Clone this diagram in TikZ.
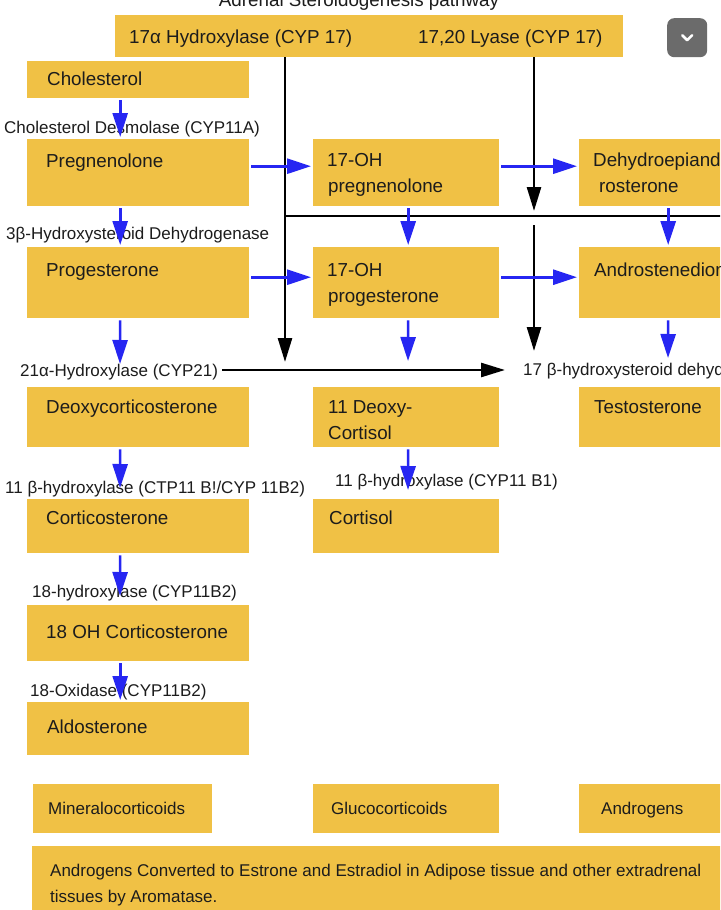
\documentclass[tikz,border=0pt]{standalone}
\usepackage{fontspec}
\setmainfont{Liberation Sans}
\usetikzlibrary{arrows.meta,calc}
\definecolor{gold}{HTML}{F0C145}
\definecolor{barc}{HTML}{2626F2}
\definecolor{btngray}{HTML}{6B6B6B}
\definecolor{ink}{HTML}{1C1C1C}
\begin{document}
\begin{tikzpicture}[x=1pt,y=-1pt,
  box/.style={fill=gold, draw=none, inner sep=0pt, anchor=north west},
  btxt/.style={anchor=base west, inner sep=0pt, font=\fontsize{18.8}{22}\selectfont, text=ink},
  ltxt/.style={anchor=base west, inner sep=0pt, font=\fontsize{17}{20}\selectfont, text=ink},
  barrow/.style={draw=barc, line width=2.6pt, -{Triangle[length=24pt,width=15pt]}, shorten <=2pt, shorten >=2pt},
  karrow/.style={draw=black, line width=2.6pt, -{Triangle[length=24pt,width=14pt]}},
  kline/.style={draw=black, line width=2.8pt}]
\useasboundingbox (0,0) rectangle (720,910);
\clip (0,0) rectangle (720,910);
\fill[white] (0,0) rectangle (720,910);

% title (cut off at top)
\node[btxt, anchor=base] (title) at (359,6) {Adrenal Steroidogenesis pathway};

% boxes
\node[box, minimum width=508pt, minimum height=42pt] (top) at (115,15) {};
\node[box, minimum width=222pt, minimum height=37pt] (chol) at (27,61) {};
\node[box, minimum width=222pt, minimum height=67pt] (preg) at (27,139) {};
\node[box, minimum width=222pt, minimum height=71pt] (prog) at (27,247) {};
\node[box, minimum width=222pt, minimum height=60pt] (doc) at (27,387) {};
\node[box, minimum width=222pt, minimum height=54pt] (cort) at (27,499) {};
\node[box, minimum width=222pt, minimum height=56pt] (ohc) at (27,605) {};
\node[box, minimum width=222pt, minimum height=53pt] (aldo) at (27,702) {};
\node[box, minimum width=186pt, minimum height=67pt] (ohpreg) at (313,139) {};
\node[box, minimum width=186pt, minimum height=71pt] (ohprog) at (313,247) {};
\node[box, minimum width=186pt, minimum height=60pt] (dcort) at (313,387) {};
\node[box, minimum width=186pt, minimum height=54pt] (cortisol) at (313,499) {};
\node[box, minimum width=186pt, minimum height=67pt] (dhea) at (579,139) {};
\node[box, minimum width=186pt, minimum height=71pt] (andro) at (579,247) {};
\node[box, minimum width=186pt, minimum height=60pt] (testo) at (579,387) {};
\node[box, minimum width=179pt, minimum height=49pt] (mineral) at (33,784) {};
\node[box, minimum width=186pt, minimum height=49pt] (gluco) at (313,784) {};
\node[box, minimum width=186pt, minimum height=49pt] (andg) at (579,784) {};
\node[box, minimum width=720pt, minimum height=70pt] (note) at (32,846) {};

% menu button
\node[fill=btngray, rounded corners=7pt, minimum width=40pt, minimum height=39pt, anchor=north west, inner sep=0pt] (menu) at (667,18) {};
\draw[white, line width=2.5pt, line cap=round, line join=round]
  ($(menu.center)+(-5,-2.5)$) -- ($(menu.center)+(0,2.5)$) -- ($(menu.center)+(5,-2.5)$);

% box texts
\node[btxt] (t1) at (129,43.5) {17α Hydroxylase (CYP 17)};
\node[btxt] (t2) at (418,43.5) {17,20 Lyase (CYP 17)};
\node[btxt] (tchol) at (47,85) {Cholesterol};
\node[btxt] (tpreg) at (46,167) {Pregnenolone};
\node[btxt] (tprog) at (46,276) {Progesterone};
\node[btxt] (tdoc) at (46,413) {Deoxycorticosterone};
\node[btxt] (tcort) at (46,524) {Corticosterone};
\node[btxt] (tohc) at (46,638) {18 OH Corticosterone};
\node[btxt] (taldo) at (47,733) {Aldosterone};
\node[btxt] (tohpreg1) at (327,166) {17-OH};
\node[btxt] (tohpreg2) at (328,192) {pregnenolone};
\node[btxt] (tohprog1) at (327,276) {17-OH};
\node[btxt] (tohprog2) at (328,302) {progesterone};
\node[btxt] (tdcort1) at (328,413) {11 Deoxy-};
\node[btxt] (tdcort2) at (328,439) {Cortisol};
\node[btxt] (tcortisol) at (329,524) {Cortisol};
\node[btxt] (tdhea1) at (593,166) {Dehydroepiand};
\node[btxt] (tdhea2) at (599,192) {rosterone};
\node[btxt] (tandro) at (594,276) {Androstenedion};
\node[btxt] (ttesto) at (594,413) {Testosterone};

% enzyme labels
\node[ltxt] (lchol) at (4,133) {Cholesterol Desmolase (CYP11A)};
\node[ltxt] (l3b) at (6,239) {3β-Hydroxysteroid Dehydrogenase};
\node[ltxt] (l21) at (20,376) {21α-Hydroxylase (CYP21)};
\node[ltxt] (l17b) at (523,375) {17 β-hydroxysteroid dehyd};
\node[ltxt] (l11a) at (5,493) {11 β-hydroxylase (CTP11 B!/CYP 11B2)};
\node[ltxt] (l11b) at (335,486) {11 β-hydroxylase (CYP11 B1)};
\node[ltxt] (l18h) at (32,597) {18-hydroxylase (CYP11B2)};
\node[ltxt] (l18o) at (30,696) {18-Oxidase (CYP11B2)};

% class labels
\node[ltxt] (tmin) at (48,814) {Mineralocorticoids};
\node[ltxt] (tglu) at (331,814) {Glucocorticoids};
\node[ltxt] (tand) at (601,814) {Androgens};
\node[ltxt] (tnote1) at (50,876) {Androgens Converted to Estrone and Estradiol in Adipose tissue and other extradrenal};
\node[ltxt] (tnote2) at (50,902) {tissues by Aromatase.};

% free ends
\coordinate (e1) at (120,366);
\coordinate (e2) at (120,490);
\coordinate (e3) at (120,598);
\coordinate (e4) at (408,363);
\coordinate (e5) at (408,492);
\coordinate (e6) at (668,360);
\coordinate (kL) at (285,362);
\coordinate (kR1) at (534,211);
\coordinate (kR2s) at (534,225);
\coordinate (kR2) at (534,351);
\coordinate (hL) at (284,216);
\coordinate (hR) at (725,216);
\coordinate (kH) at (505,370);

% black connectors
\draw[karrow] (top.south -| kL) -- (kL);
\draw[karrow] (top.south -| kR1) -- (kR1);
\draw[kline] (hL) -- (hR);
\draw[karrow] (kR2s) -- (kR2);
\draw[karrow, shorten <=4pt] (l21.east |- kH) -- (kH);

% blue connectors
\draw[barrow] ([xshift=-18pt]chol.south) -- ([xshift=-18pt]preg.north);
\draw[barrow] ([xshift=-18pt]preg.south) -- ([xshift=-18pt]prog.north);
\draw[barrow] ([xshift=-18pt]prog.south) -- (e1);
\draw[barrow] ([xshift=-18pt]doc.south) -- (e2);
\draw[barrow] ([xshift=-18pt]cort.south) -- (e3);
\draw[barrow] ([xshift=-18pt]ohc.south) -- ([xshift=-18pt]aldo.north);
\draw[barrow] ([yshift=6.5pt]preg.east) -- ([yshift=6.5pt]ohpreg.west);
\draw[barrow] ([yshift=6.5pt]ohpreg.east) -- ([yshift=6.5pt]dhea.west);
\draw[barrow] ([yshift=5.5pt]prog.east) -- ([yshift=5.5pt]ohprog.west);
\draw[barrow] ([yshift=5.5pt]ohprog.east) -- ([yshift=5.5pt]andro.west);
\draw[barrow] ([xshift=2pt]ohpreg.south) -- ([xshift=2pt]ohprog.north);
\draw[barrow] ([xshift=2pt]ohprog.south) -- (e4);
\draw[barrow] ([xshift=2pt]dcort.south) -- (e5);
\draw[barrow] ([xshift=-4pt]dhea.south) -- ([xshift=-4pt]andro.north);
\draw[barrow] ([xshift=-4pt]andro.south) -- (e6);
\end{tikzpicture}
\end{document}
